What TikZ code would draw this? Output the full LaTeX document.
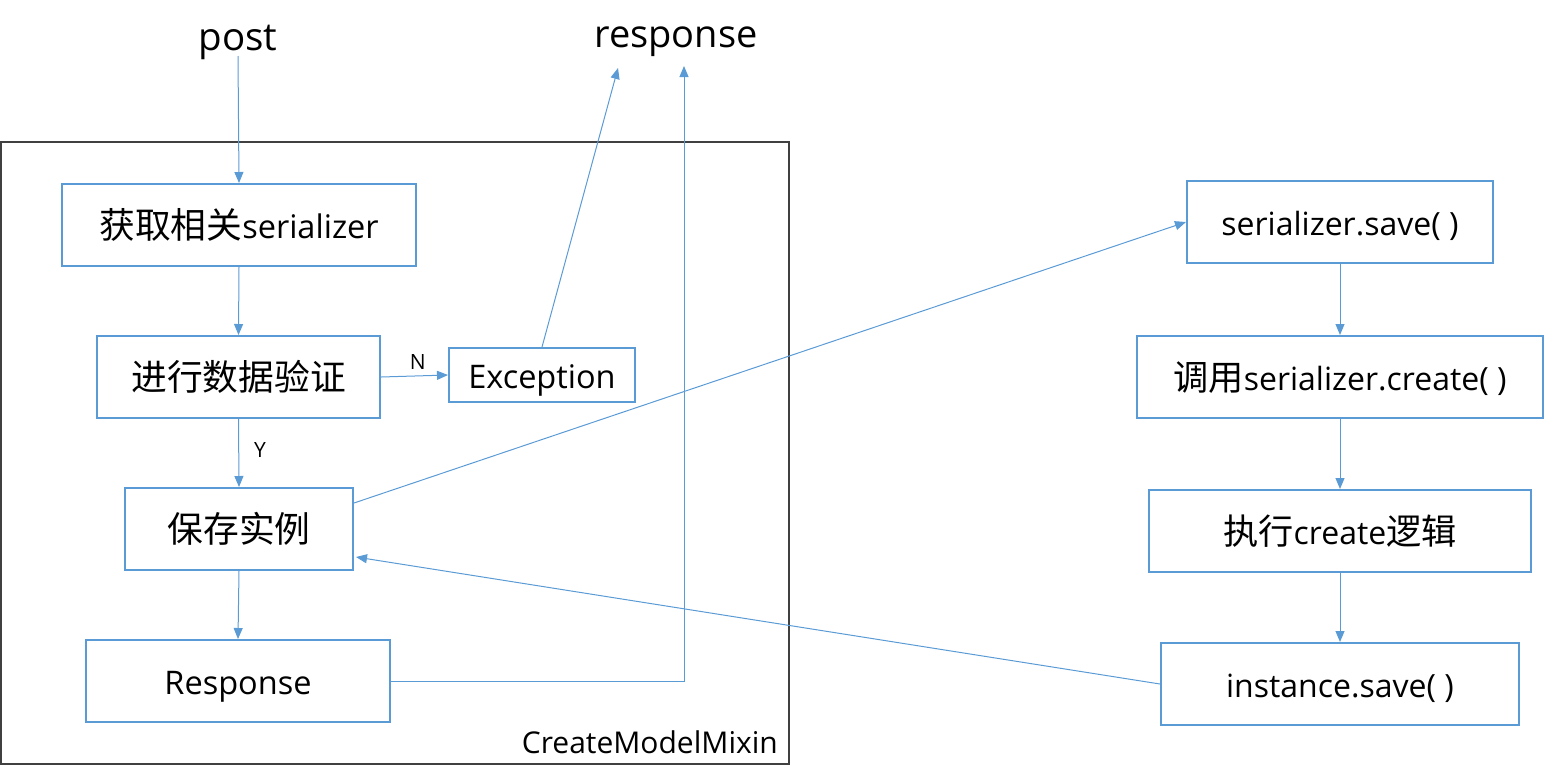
\documentclass[tikz,border=0pt]{standalone}
\usepackage{fontspec}
\setmainfont{Open Sans}
\newfontfamily\cjk[Scale=1.1]{Noto Sans CJK SC}
\usetikzlibrary{arrows.meta}
\definecolor{blu}{HTML}{5B9BD5}
\definecolor{framec}{HTML}{404040}
\begin{document}
\begin{tikzpicture}[x=1pt,y=-1pt,
  box/.style={draw=blu, line width=2pt, minimum height=82pt, inner sep=0pt, anchor=center, text height=30pt, text depth=3pt},
  lfont/.style={font=\fontsize{32.5}{38}\selectfont},
  rfont/.style={font=\fontsize{32}{38}\selectfont},
  conn/.style={draw=blu, line width=1pt, -{Triangle[length=11pt,width=9pt]}},
  lbl/.style={font=\fontsize{21}{25}\selectfont, inner sep=0pt}]
\useasboundingbox (0,0) rectangle (1544,777);
\draw[framec, line width=2pt] (1,142) rectangle (789,764);
\node[font=\fontsize{30}{36}\selectfont, anchor=east, inner sep=0pt] (mixin) at (778,742) {CreateModelMixin};

\node[font=\fontsize{38.5}{46}\selectfont, inner sep=0pt] (post) at (238,42) {post};
\node[font=\fontsize{38}{44}\selectfont, inner sep=0pt] (resp) at (676,42) {response};
\coordinate (p0) at (238,56);
\coordinate (r1) at (618,68);
\coordinate (r2) at (684,66);
\coordinate (corner) at (684,681);

\node[box, lfont, minimum width=354pt] (b1) at (239,225) {{\cjk 获取相关}serializer};
\node[box, lfont, minimum width=283pt] (b2) at (238.5,377) {\cjk 进行数据验证};
\node[box, lfont, minimum width=186pt, minimum height=54pt] (exc) at (542,375) {Exception};
\node[box, lfont, minimum width=228pt] (b3) at (239,529) {\cjk 保存实例};
\node[box, lfont, minimum width=304pt] (b4) at (238,681) {Response};

\node[box, rfont, minimum width=306pt] (c1) at (1340,222) {serializer.save( )};
\node[box, rfont, minimum width=406pt] (c2) at (1340,377) {{\cjk 调用}serializer.create( )};
\node[box, rfont, minimum width=382pt] (c3) at (1340,531) {{\cjk 执行}create{\cjk 逻辑}};
\node[box, rfont, minimum width=358pt] (c4) at (1340,684) {instance.save( )};

\draw[conn] (p0) -- (b1.north);
\draw[conn] (b1.south) -- (b2.north);
\draw[conn] (b2.east) -- (exc.west) node[lbl, pos=0.55, above=6pt] (nl) {N};
\draw[conn] (b2.south) -- (b3.north) node[lbl, pos=0.45, right=15pt] (yl) {Y};
\draw[conn] (b3.south) -- (b4.north);
\draw[conn] (exc.north) -- (r1);
\draw[conn] (b4.east) -- (corner) -- (r2);
\draw[conn] ([yshift=26pt]b3.east) -- (c1.west);
\draw[conn] (c4.west) -- ([yshift=-28pt,xshift=2pt]b3.east);
\draw[conn] (c1.south) -- (c2.north);
\draw[conn] (c2.south) -- (c3.north);
\draw[conn] (c3.south) -- (c4.north);
\end{tikzpicture}
\end{document}
